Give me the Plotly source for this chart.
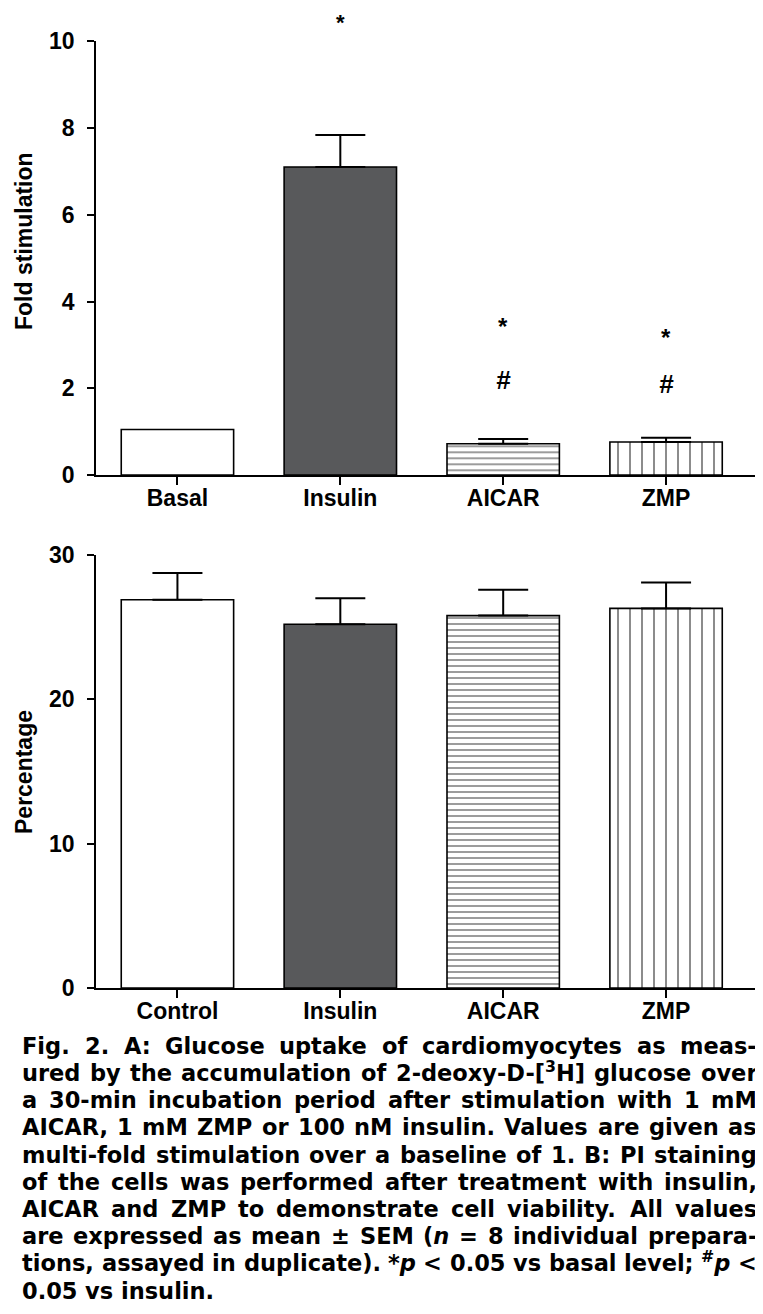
import plotly.graph_objects as go

# ---------------- data ----------------
cats_a = ["Basal", "Insulin", "AICAR", "ZMP"]
fold = [1.05, 7.10, 0.72, 0.76]
fold_sem = [0.0, 0.74, 0.11, 0.10]

cats_b = ["Control", "Insulin", "AICAR", "ZMP"]
pct = [26.9, 25.2, 25.8, 26.3]
pct_sem = [1.85, 1.8, 1.8, 1.8]

yticks_a = [0, 2, 4, 6, 8, 10]
yticks_b = [0, 10, 20, 30]

# significance marks (panel A): (category, y, text)
star_marks = [("Insulin", 10.76, "*"), ("AICAR", 3.43, "*"), ("ZMP", 3.17, "*")]
hash_marks = [("AICAR", 2.2, "#"), ("ZMP", 2.1, "#")]

caption_lines = [
    "Fig. 2. A: Glucose uptake of cardiomyocytes as meas-",
    "ured by the accumulation of 2-deoxy-D-[<sup>3</sup>H] glucose over",
    "a 30-min incubation period after stimulation with 1 mM",
    "AICAR, 1 mM ZMP or 100 nM insulin. Values are given as",
    "multi-fold stimulation over a baseline of 1. B: PI staining",
    "of the cells was performed after treatment with insulin,",
    "AICAR and ZMP to demonstrate cell viability. All values",
    "are expressed as mean ± SEM (<i>n</i> = 8 individual prepara-",
    "tions, assayed in duplicate). *<i>p</i> &lt; 0.05 vs basal level; <sup>#</sup><i>p</i> &lt;",
    "0.05 vs insulin.",
]

# ---------------- styling ----------------
W, H = 763, 1314
FONT = "Liberation Sans, Arial, sans-serif"
CAP_FONT = "DejaVu Sans"
fills = ["white", "#58595b", "white", "white"]
shapes_pat = ["", "", "-", "|"]
pat_size = [8, 8, 6, 12]
pat_sol = [0.2, 0.2, 0.26, 0.15]
YRANGE_A = [0, 10]
YRANGE_B = [0, 30]

def px_x(p):
    return p / W

def px_y(p):
    return 1 - p / H

fig = go.Figure()

def add_bars(cats, vals, errs, xa, ya):
    for i in range(len(cats)):
        marker = dict(color=fills[i], line=dict(color="black", width=1.6))
        if shapes_pat[i]:
            marker["pattern"] = dict(shape=shapes_pat[i], size=pat_size[i],
                                     solidity=pat_sol[i], fgcolor="black",
                                     bgcolor="white", fillmode="overlay")
        fig.add_trace(go.Bar(
            x=[cats[i]], y=[vals[i]], xaxis=xa, yaxis=ya, width=0.69,
            marker=marker,
            error_y=dict(type="data", symmetric=False, array=[errs[i]],
                         arrayminus=[0], color="black", thickness=2, width=25,
                         visible=errs[i] > 0),
            hoverinfo="skip",
        ))

add_bars(cats_a, fold, fold_sem, "x", "y")
add_bars(cats_b, pct, pct_sem, "x2", "y2")

xdom = [px_x(88), px_x(747)]
axis_common = dict(showline=True, linecolor="black", linewidth=1.6,
                   ticks="outside", tickcolor="black", tickwidth=1.6,
                   showgrid=False, zeroline=False,
                   tickfont=dict(family=FONT, size=23, color="black", weight="bold"),
                   automargin=False)

ydom_a = [px_y(467), px_y(33.3)]
ydom_b = [px_y(980), px_y(547)]

fig.update_layout(
    width=W, height=H,
    margin=dict(l=0, r=0, t=0, b=0),
    paper_bgcolor="white", plot_bgcolor="white",
    showlegend=False, barmode="overlay",
    xaxis=dict(domain=xdom, anchor="y", range=[-0.5, 3.546], ticklen=8,
               ticklabelstandoff=-6,
               categoryorder="array", categoryarray=cats_a, **axis_common),
    yaxis=dict(domain=ydom_a, anchor="x", range=YRANGE_A, ticklabelstandoff=8,
               tickvals=yticks_a, ticklen=7, **axis_common),
    xaxis2=dict(domain=xdom, anchor="y2", range=[-0.5, 3.546], ticklen=8,
                ticklabelstandoff=-6,
                categoryorder="array", categoryarray=cats_b, **axis_common),
    yaxis2=dict(domain=ydom_b, anchor="x2", range=YRANGE_B, ticklabelstandoff=8,
                tickvals=yticks_b, ticklen=7, **axis_common),
)

ann = []
# axis titles
ann.append(dict(text="Fold stimulation", xref="paper", yref="paper",
                x=px_x(16), y=px_y(233), textangle=-90, showarrow=False,
                font=dict(family=FONT, size=23, color="black", weight="bold"),
                xanchor="center", yanchor="middle"))
ann.append(dict(text="Percentage", xref="paper", yref="paper",
                x=px_x(16), y=px_y(764), textangle=-90, showarrow=False,
                font=dict(family=FONT, size=23, color="black", weight="bold"),
                xanchor="center", yanchor="middle"))
# significance marks placed via the y-axis domain (so marks above the range still show)
for c, yv, t in star_marks:
    above = yv > YRANGE_A[1]
    ann.append(dict(text=t, x=c, y=(yv - YRANGE_A[0]) / (YRANGE_A[1] - YRANGE_A[0]),
                    xref="x", yref="y domain", showarrow=False,
                    font=dict(family=FONT, size=22 if above else 24, color="black",
                              weight="bold"),
                    yanchor="top" if above else "middle"))
for c, yv, t in hash_marks:
    ann.append(dict(text="<i>" + t + "</i>", x=c,
                    y=(yv - YRANGE_A[0]) / (YRANGE_A[1] - YRANGE_A[0]),
                    xref="x", yref="y domain", showarrow=False,
                    font=dict(family=FONT, size=26, color="black", weight="bold"),
                    yanchor="middle"))

# ---------- caption with justified lines ----------
CW = {
    ' ': .348, 'a': .675, 'b': .716, 'c': .593, 'd': .716, 'e': .678, 'f': .435,
    'g': .716, 'h': .712, 'i': .343, 'j': .343, 'k': .665, 'l': .343, 'm': 1.042,
    'n': .712, 'o': .687, 'p': .716, 'q': .716, 'r': .493, 's': .595, 't': .478,
    'u': .712, 'v': .652, 'w': .924, 'x': .645, 'y': .652, 'z': .582,
    'A': .774, 'B': .762, 'C': .734, 'D': .830, 'E': .683, 'F': .683, 'G': .821,
    'H': .837, 'I': .372, 'L': .637, 'M': .995, 'N': .837, 'P': .733, 'R': .770,
    'S': .720, 'V': .774, 'Z': .725, 'O': .850,
    '.': .380, ',': .380, ':': .400, ';': .400, '-': .415, '(': .457, ')': .457,
    '[': .457, ']': .457, '*': .500, '#': .838, '<': .838, '=': .838, '±': .838,
}
for d in "0123456789":
    CW[d] = .696

def word_width(w, fs):
    import re
    total = 0.0
    parts = re.split(r"(<sup>.*?</sup>)", w)
    for p in parts:
        if not p:
            continue
        scale = 1.0
        if p.startswith("<sup>"):
            scale = 0.7
            p = p[5:-6]
        p = p.replace("<i>", "").replace("</i>", "").replace("&lt;", "<")
        total += sum(CW.get(ch, .65) for ch in p) * scale
    return total * fs

CFS = 22.5
X0, X1 = 13, 748
BASE0, STEP = 1053.5, 27.2
for i, line in enumerate(caption_lines):
    words = line.split(" ")
    widths = [word_width(w, CFS) for w in words]
    if i < len(caption_lines) - 1 and len(words) > 1:
        gap = (X1 - X0 - sum(widths)) / (len(words) - 1)
    else:
        gap = CW[' '] * CFS
    x = X0
    base = BASE0 + i * STEP
    for w, wd in zip(words, widths):
        ann.append(dict(text=w, xref="paper", yref="paper", x=px_x(x - 1),
                        y=px_y(base + 0.236 * CFS - 6), xanchor="left", yanchor="bottom",
                        showarrow=False,
                        font=dict(family=CAP_FONT, size=CFS, color="black", weight="bold")))
        x += wd + gap

fig.update_layout(annotations=ann)
fig.write_html("out.html")
